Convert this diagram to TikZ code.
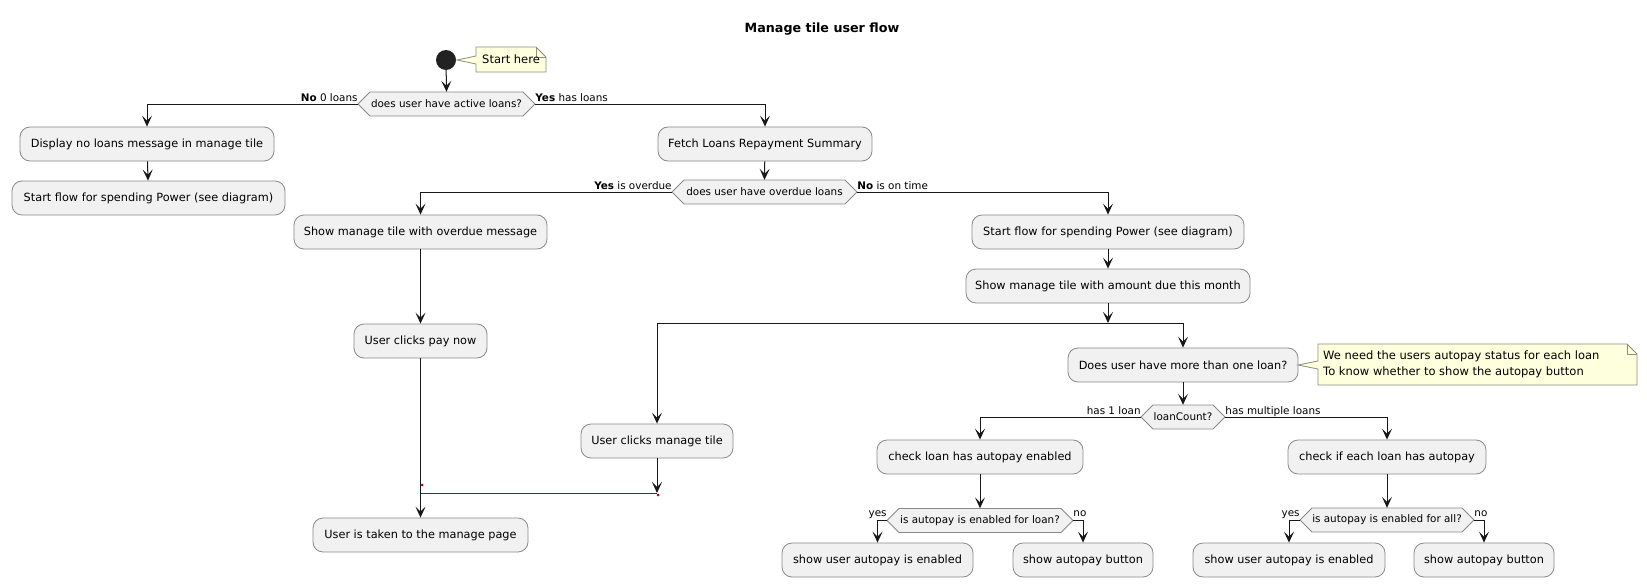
\documentclass[tikz,border=0pt]{standalone}
\usepackage{fontspec}
\setmainfont{DejaVu Sans}
\usetikzlibrary{arrows.meta,calc}
\definecolor{boxfill}{HTML}{F1F1F1}
\definecolor{boxline}{HTML}{8A8A8A}
\definecolor{notefill}{HTML}{FEFFDD}
\definecolor{noteline}{HTML}{8F8F80}
\definecolor{flow}{HTML}{181818}
\definecolor{mergecol}{HTML}{A80036}
\definecolor{startfill}{HTML}{222222}
\tikzset{
  act/.style={draw=boxline, fill=boxfill, rounded corners=10pt, minimum height=34pt, inner sep=0pt, line width=0.8pt, font=\fontsize{11.3}{13}\selectfont},
  decshape/.style={draw=boxline, fill=boxfill, line width=0.8pt},
  dectext/.style={inner sep=0pt, minimum height=24pt, font=\fontsize{10.4}{12}\selectfont},
  lbl/.style={inner sep=0pt, font=\fontsize{10.4}{12}\selectfont},
  arr/.style={draw=flow, line width=1pt, -{Stealth[length=11pt,width=10pt,inset=5pt]}},
  flowline/.style={draw=flow, line width=1pt},
  mergeline/.style={draw=mergecol, line width=1pt},
  noteshape/.style={draw=noteline, fill=notefill, line width=0.8pt, line join=miter},
  notetext/.style={inner sep=0pt, align=left, font=\fontsize{11.5}{16}\selectfont},
}
\newcommand\decision[5]{%
  \draw[decshape] ({#2-#4/2},#3) -- ({#2-#4/2+12},{#3-12}) -- ({#2+#4/2-12},{#3-12}) -- ({#2+#4/2},#3) -- ({#2+#4/2-12},{#3+12}) -- ({#2-#4/2+12},{#3+12}) -- cycle;
  \node[dectext, minimum width=#4pt] (#1) at (#2,#3) {#5};
}
\begin{document}
\begin{tikzpicture}[x=1pt,y=-1pt]
\useasboundingbox[fill=white] (0,0) rectangle (1647,586);

% title
\node[inner sep=0pt, font=\bfseries\fontsize{12.7}{15}\selectfont] (title) at (822,29) {Manage tile user flow};

% start + note
\node[circle, fill=startfill, minimum size=20pt, inner sep=0pt] (start) at (446,60) {};
\draw[noteshape] (476,47) -- (536,47) -- (546,57) -- (546,72) -- (476,72) -- (476,64) -- (457,60) -- (476,56) -- cycle;
\draw[noteshape, fill=none] (536,47) -- (536,57) -- (546,57);
\node[notetext, anchor=west] (note1) at (482,59.5) {Start here};

% decisions
\decision{d1}{446.5}{104}{177}{does user have active loans?}
\decision{d2}{764.5}{192}{185}{does user have overdue loans}
\decision{d3}{1183}{417}{84}{loanCount?}
\decision{d4}{980}{520.5}{186}{is autopay is enabled for loan?}
\decision{d5}{1387}{520}{174}{is autopay is enabled for all?}

% activities
\node[act, minimum width=254pt] (A) at (147,144) {Display no loans message in manage tile};
\node[act, minimum width=273pt] (B) at (148.5,198) {Start flow for spending Power (see diagram)};
\node[act, minimum width=214pt] (C) at (765,144) {Fetch Loans Repayment Summary};
\node[act, minimum width=253pt] (D) at (420.5,232) {Show manage tile with overdue message};
\node[act, minimum width=272pt] (E) at (1108,232) {Start flow for spending Power (see diagram)};
\node[act, minimum width=284pt] (F) at (1108,286) {Show manage tile with amount due this month};
\node[act, minimum width=133pt] (G) at (420.5,341) {User clicks pay now};
\node[act, minimum width=152pt] (H) at (657,441) {User clicks manage tile};
\node[act, minimum width=215pt] (I) at (420.5,535) {User is taken to the manage page};
\node[act, minimum width=230pt] (J) at (1183,365) {Does user have more than one loan?};
\node[act, minimum width=206pt] (K) at (980,457) {check loan has autopay enabled};
\node[act, minimum width=191pt] (L) at (877.5,560) {show user autopay is enabled};
\node[act, minimum width=140pt] (M) at (1083,560) {show autopay button};
\node[act, minimum width=198pt] (N) at (1387,457) {check if each loan has autopay};
\node[act, minimum width=192pt] (O) at (1289,560) {show user autopay is enabled};
\node[act, minimum width=140pt] (P) at (1484,560) {show autopay button};

% note 2
\draw[noteshape] (1318,344) -- (1627,344) -- (1637,354) -- (1637,385) -- (1318,385) -- (1318,369) -- (1298,365) -- (1318,361) -- cycle;
\draw[noteshape, fill=none] (1627,344) -- (1627,354) -- (1637,354);
\node[notetext, anchor=west] (note2) at (1323,364.5) {We need the users autopay status for each loan\\To know whether to show the autopay button};

% connectors
\draw[arr] (start) -- (d1.north);
\draw[arr] (d1.west) -| (A.north);
\node[lbl, anchor=base east] (l1) at ([yshift=2.5pt]d1.west) {\textbf{No} 0 loans};
\draw[arr] (d1.east) -| (C.north);
\node[lbl, anchor=base west] (l2) at ([yshift=2.5pt]d1.east) {\textbf{Yes} has loans};
\draw[arr] (A) -- (B);
\draw[arr] (C) -- (d2.north);
\draw[arr] (d2.west) -| (D.north);
\node[lbl, anchor=base east] (l3) at ([yshift=2.5pt]d2.west) {\textbf{Yes} is overdue};
\draw[arr] (d2.east) -| (E.north);
\node[lbl, anchor=base west] (l4) at ([yshift=2.5pt]d2.east) {\textbf{No} is on time};
\draw[arr] (E) -- (F);

\coordinate (fk) at (1108,323);
\coordinate (fkL) at (657,323);
\coordinate (fkR) at (1183,323);
\draw[arr] (F) -- (fk);
\draw[flowline] (fkL) -- (fkR);
\draw[arr] (fkL) -- (H.north);
\draw[arr] (fkR) -- (J.north);

\draw[arr] (D) -- (G);
\draw[arr] (G) -- (I);
\coordinate (mg) at (657,493);
\coordinate (mgL) at (420.5,493);
\draw[arr] (H) -- (mg);
\draw[mergeline] (mgL) -- (mg);
\fill[mergecol] (422,485) circle (1.5pt);
\fill[mergecol] (658,495) circle (1.5pt);

\draw[arr] (J) -- (d3.north);
\draw[arr] (d3.west) -| (K.north);
\node[lbl, anchor=base east] (l5) at ([yshift=2.5pt]d3.west) {has 1 loan};
\draw[arr] (d3.east) -| (N.north);
\node[lbl, anchor=base west] (l6) at ([yshift=2.5pt]d3.east) {has multiple loans};

\draw[arr] (K) -- (d4.north);
\draw[arr] (d4.west) -| (L.north);
\node[lbl, anchor=base east] (l7) at ([yshift=4pt]d4.west) {yes};
\draw[arr] (d4.east) -| (M.north);
\node[lbl, anchor=base west] (l8) at ([yshift=4pt]d4.east) {no};

\draw[arr] (N) -- (d5.north);
\draw[arr] (d5.west) -| (O.north);
\node[lbl, anchor=base east] (l9) at ([yshift=4pt]d5.west) {yes};
\draw[arr] (d5.east) -| (P.north);
\node[lbl, anchor=base west] (l10) at ([yshift=4pt]d5.east) {no};
\end{tikzpicture}
\end{document}
